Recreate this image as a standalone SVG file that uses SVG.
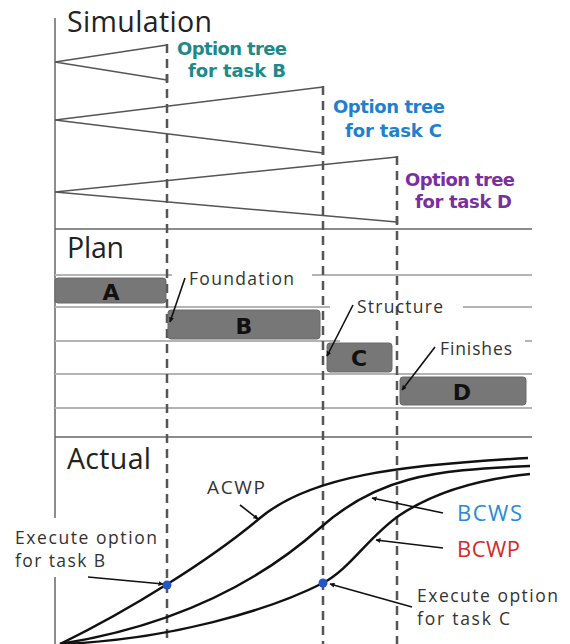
<svg xmlns="http://www.w3.org/2000/svg" width="570" height="644" viewBox="0 0 570 644">
<defs>
<marker id="ah" viewBox="0 0 10 10" refX="9" refY="5" markerWidth="5" markerHeight="5" orient="auto" markerUnits="userSpaceOnUse">
<path d="M0,0 L10,5 L0,10 z" fill="#111"/>
</marker>
<style>
.sec{font-family:"Open Sans","Liberation Sans",sans-serif;font-size:28.5px;fill:#222}
.lbl{font-family:"Open Sans","Liberation Sans",sans-serif;font-size:17.5px;fill:#333}
.big{font-family:"Open Sans","Liberation Sans",sans-serif;font-size:22px}
.opt{font-family:"DejaVu Sans","Liberation Sans",sans-serif;font-weight:bold;font-size:18px}
.bar{fill:#777;stroke:#6a6a6a;stroke-width:1}
.bl{font-family:"DejaVu Sans","Liberation Sans",sans-serif;font-weight:bold;font-size:22px;fill:#111;text-anchor:middle}
.tree{stroke:#555;stroke-width:1.5;fill:none}
.row{stroke:#b4b4b4;stroke-width:2}
.div{stroke:#666;stroke-width:1.5}
.dash{stroke:#555;stroke-width:2.5;stroke-dasharray:9 6;fill:none}
.arr{stroke:#111;stroke-width:1.6;fill:none;marker-end:url(#ah)}
.crv{stroke:#111;stroke-width:2.5;fill:none}
</style>
</defs>
<rect width="570" height="644" fill="#fff"/>

<g id="axes">
<line x1="55" y1="18" x2="55" y2="518" class="div"/>
<line x1="55" y1="577" x2="55" y2="644" class="div"/>
<line x1="55" y1="229" x2="532" y2="229" class="div"/>
<line x1="55" y1="437" x2="532" y2="437" class="div"/>
<line x1="55" y1="275" x2="172" y2="275" class="row"/>
<line x1="312" y1="275" x2="532" y2="275" class="row"/>
<line x1="55" y1="307" x2="330" y2="307" class="row"/>
<line x1="463" y1="307" x2="532" y2="307" class="row"/>
<line x1="55" y1="341" x2="340" y2="341" class="row"/>
<line x1="525" y1="341" x2="532" y2="341" class="row"/>
<line x1="55" y1="374" x2="532" y2="374" class="row"/>
<line x1="55" y1="408" x2="532" y2="408" class="row"/>
</g>

<g id="section-labels">
<text x="67" y="32" class="sec" textLength="145">Simulation</text>
<text x="67" y="258" class="sec" textLength="57">Plan</text>
<text x="67" y="469" class="sec" textLength="84">Actual</text>
</g>

<g id="tree-B">
<path d="M167,45 L55,62 L167,80" class="tree"/>
<text x="177" y="55" class="opt" fill="#1c8a8a" textLength="110">Option tree</text>
<text x="188" y="77" class="opt" fill="#1c8a8a" textLength="98">for task B</text>
</g>
<g id="tree-C">
<path d="M323,87 L55,120 L323,153" class="tree"/>
<text x="333" y="113" class="opt" fill="#1f80d0" textLength="112">Option tree</text>
<text x="345" y="137" class="opt" fill="#1f80d0" textLength="97">for task C</text>
</g>
<g id="tree-D">
<path d="M397,157 L55,192 L397,222" class="tree"/>
<text x="405" y="186" class="opt" fill="#7a2fa0" textLength="110">Option tree</text>
<text x="415" y="208" class="opt" fill="#7a2fa0" textLength="97">for task D</text>
</g>

<g id="dashes">
<line x1="167" y1="44" x2="167" y2="644" class="dash"/>
<line x1="323" y1="86" x2="323" y2="644" class="dash"/>
<line x1="397" y1="156" x2="397" y2="644" class="dash"/>
<line x1="167" y1="74" x2="167" y2="82" stroke="#555" stroke-width="2.5"/>
<line x1="323" y1="146" x2="323" y2="155" stroke="#555" stroke-width="2.5"/>
<line x1="397" y1="216" x2="397" y2="224" stroke="#555" stroke-width="2.5"/>
</g>

<g id="task-A">
<rect x="55" y="278" width="111" height="25" rx="3" class="bar"/>
<text x="111" y="300" class="bl">A</text>
</g>
<g id="task-B">
<rect x="168" y="310" width="152" height="29" rx="3" class="bar"/>
<text x="244" y="334" class="bl">B</text>
</g>
<g id="task-C">
<rect x="327" y="343" width="65" height="29" rx="3" class="bar"/>
<text x="359" y="366" class="bl">C</text>
</g>
<g id="task-D">
<rect x="400" y="377" width="126" height="28" rx="3" class="bar"/>
<text x="462" y="400" class="bl">D</text>
</g>

<g id="plan-labels">
<text x="189" y="285" class="lbl" textLength="105">Foundation</text>
<text x="357" y="313" class="lbl" textLength="86">Structure</text>
<text x="440" y="355" class="lbl" textLength="72">Finishes</text>
</g>

<g id="curves">
<path id="acwp" d="M60,644 C130,610 210,560 260,518 C310,476 400,465 528,458" class="crv"/>
<path id="bcws" d="M60,644 C160,628 250,590 320,528 C376,478 430,470 530,466" class="crv"/>
<path id="bcwp" d="M60,644 C170,640 270,610 323,583 C350,569 370,535 400,515 C430,495 470,480 530,474" class="crv"/>
<circle cx="167" cy="585" r="4.5" fill="#2456c8"/>
<circle cx="323" cy="583" r="4.5" fill="#2456c8"/>
</g>

<g id="actual-labels">
<text x="207" y="494" class="lbl" style="font-size:19px" textLength="58">ACWP</text>
<text x="457" y="521" class="big" style="fill:#2a8ad4" textLength="65">BCWS</text>
<text x="457" y="557" class="big" style="fill:#d42a2a" textLength="63">BCWP</text>
<text x="15" y="544" class="lbl" textLength="142">Execute option</text>
<text x="15" y="567" class="lbl" textLength="90">for task B</text>
<text x="417" y="602" class="lbl" textLength="141">Execute option</text>
<text x="417" y="625" class="lbl" textLength="93">for task C</text>
</g>

<g id="connectors">
<line x1="185" y1="278" x2="170" y2="322" class="arr"/>
<line x1="353" y1="305" x2="327" y2="356" class="arr"/>
<line x1="435" y1="347" x2="402" y2="390" class="arr"/>
<line x1="240" y1="505" x2="258" y2="519" class="arr"/>
<line x1="443" y1="513" x2="372" y2="498" class="arr"/>
<line x1="443" y1="548" x2="376" y2="540" class="arr"/>
<line x1="88" y1="577" x2="163" y2="584" class="arr"/>
<line x1="412" y1="607" x2="330" y2="584" class="arr"/>
</g>
</svg>
